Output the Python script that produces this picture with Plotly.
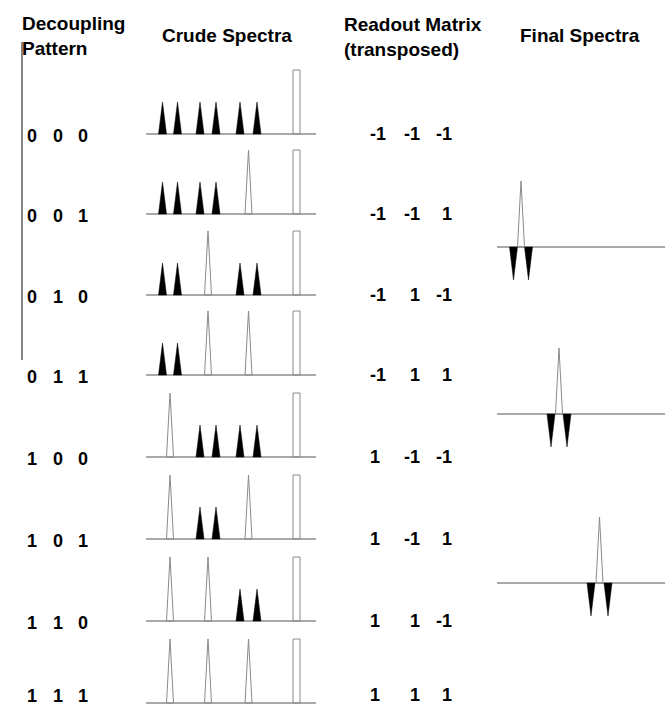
import plotly.graph_objects as go

W, H = 665, 707

# ---------------- data ----------------
patterns = [[0, 0, 0], [0, 0, 1], [0, 1, 0], [0, 1, 1],
            [1, 0, 0], [1, 0, 1], [1, 1, 0], [1, 1, 1]]
readout = [[-1, -1, -1], [-1, -1, 1], [-1, 1, -1], [-1, 1, 1],
           [1, -1, -1], [1, -1, 1], [1, 1, -1], [1, 1, 1]]
spin_centers = [24, 62, 102.5]      # frequency units
spin_J = [15, 16, 17]               # doublet splitting
doublet_height = 1.0
singlet_height = 2.0
ref_peak_pos = 150.5
ref_peak_width = 7
ref_peak_height = 2.0
final_singlet_height = 2.0
final_doublet_height = -1.0
crude_span = [0, 170]
final_span = [0, 168]
header_decoupling = "Decoupling<br>Pattern"
header_crude = "Crude Spectra"
header_readout = "Readout Matrix<br>(transposed)"
header_final = "Final Spectra"

# ---------------- layout geometry (pixels) ----------------
crude_baselines = [134, 214, 295, 375, 457, 539, 621, 703]
final_baselines = [247, 414, 583]
crude_x0, crude_x1 = 146, 316
final_x0, final_x1 = 497, 665
crude_ppu = 32.0
final_ppu = 33.0
black_w = 8
open_w = 7

FONT = "Arial, 'Liberation Sans', sans-serif"
BASE_COL = "#8c8c8c"
OPEN_COL = "#8a8a8a"


def px_x(p):
    return p / W


def px_y(p):
    return 1 - p / H


fig = go.Figure()
layout = {}


def add_axes(n, xd, yd, xr, yr):
    layout["xaxis%d" % n] = dict(domain=xd, range=xr, visible=False,
                                 fixedrange=True, anchor="y%d" % n)
    layout["yaxis%d" % n] = dict(domain=yd, range=yr, visible=False,
                                 fixedrange=True, anchor="x%d" % n)


def tri_path(centers, heights, width):
    xs, ys = [], []
    for c, h in zip(centers, heights):
        xs += [c - width / 2, c, c + width / 2, c - width / 2, None]
        ys += [0, h, 0, 0, None]
    return xs, ys


def draw_spectrum(n, black_c, black_h, open_c, open_h, span, rect=None):
    xa, ya = "x%d" % n, "y%d" % n
    fig.add_trace(go.Scatter(x=span, y=[0, 0], mode="lines",
                             line=dict(color=BASE_COL, width=1.3),
                             xaxis=xa, yaxis=ya, hoverinfo="skip"))
    if black_c:
        bx, by = tri_path(black_c, black_h, black_w)
        fig.add_trace(go.Scatter(x=bx, y=by, mode="lines", fill="toself",
                                 fillcolor="black",
                                 line=dict(color="black", width=0.5),
                                 xaxis=xa, yaxis=ya, hoverinfo="skip"))
    if open_c:
        ox, oy = tri_path(open_c, open_h, open_w)
        fig.add_trace(go.Scatter(x=ox, y=oy, mode="lines", fill="toself",
                                 fillcolor="rgba(255,255,255,0)",
                                 line=dict(color=OPEN_COL, width=1),
                                 xaxis=xa, yaxis=ya, hoverinfo="skip"))
    if rect is not None:
        pos, w, h = rect
        fig.add_trace(go.Scatter(x=[pos - w / 2, pos - w / 2, pos + w / 2, pos + w / 2, pos - w / 2],
                                 y=[0, h, h, 0, 0], mode="lines",
                                 line=dict(color=OPEN_COL, width=1),
                                 xaxis=xa, yaxis=ya, hoverinfo="skip"))


# crude spectra
for i, pat in enumerate(patterns):
    n = i + 1
    B = crude_baselines[i]
    pad_b, pad_t = 3, 74
    add_axes(n, [px_x(crude_x0), px_x(crude_x1)],
             [px_y(B + pad_b), px_y(B - pad_t)],
             crude_span, [-pad_b / crude_ppu, pad_t / crude_ppu])
    bc, bh, oc, oh = [], [], [], []
    for k, bit in enumerate(pat):
        if bit:
            oc.append(spin_centers[k])
            oh.append(singlet_height)
        else:
            bc += [spin_centers[k] - spin_J[k] / 2, spin_centers[k] + spin_J[k] / 2]
            bh += [doublet_height, doublet_height]
    draw_spectrum(n, bc, bh, oc, oh, crude_span,
                  rect=(ref_peak_pos, ref_peak_width, ref_peak_height))

# final spectra
for k in range(3):
    n = 9 + k
    B = final_baselines[k]
    pad_b, pad_t = 40, 75
    add_axes(n, [px_x(final_x0), px_x(final_x1)],
             [px_y(B + pad_b), px_y(B - pad_t)],
             final_span, [-pad_b / final_ppu, pad_t / final_ppu])
    c = spin_centers[k]
    draw_spectrum(n, [c - spin_J[k] / 2, c + spin_J[k] / 2],
                  [final_doublet_height, final_doublet_height],
                  [c], [final_singlet_height], final_span)

# ---------------- text ----------------
ann = []


def text(s, x, y, size=18, xanchor="left", yanchor="middle", align="left"):
    ann.append(dict(text=s, x=px_x(x), y=px_y(y), xref="paper", yref="paper",
                    showarrow=False, xanchor=xanchor, yanchor=yanchor, align=align,
                    font=dict(family=FONT, size=size, color="black", weight="bold"),
                    borderpad=0))


text(header_decoupling, 21, 36, size=19)
text(header_crude, 227, 36, size=19, xanchor="center", align="center")
text(header_readout, 343, 37, size=19)
text(header_final, 580, 36, size=19, xanchor="center", align="center")

digit_x = [26, 51.5, 77]
for i, pat in enumerate(patterns):
    B = crude_baselines[i]
    y = min(B + 2, 696)
    for k, bit in enumerate(pat):
        text(str(bit), digit_x[k], y, size=18)

for i, row in enumerate(readout):
    B = crude_baselines[i]
    y = min(B, 695)
    text(str(row[0]), 369, y, size=18, xanchor="left")
    text(str(row[1]), 421, y, size=18, xanchor="right", align="right")
    text(str(row[2]), 453, y, size=18, xanchor="right", align="right")

layout["shapes"] = [dict(type="line", xref="paper", yref="paper",
                         x0=px_x(22), x1=px_x(22), y0=px_y(42), y1=px_y(360),
                         line=dict(color="#444444", width=1.3))]
layout["annotations"] = ann

fig.update_layout(width=W, height=H, margin=dict(l=0, r=0, t=0, b=0),
                  paper_bgcolor="white", plot_bgcolor="rgba(0,0,0,0)",
                  showlegend=False, **layout)

fig.write_html("out.html", config={"displayModeBar": False})
